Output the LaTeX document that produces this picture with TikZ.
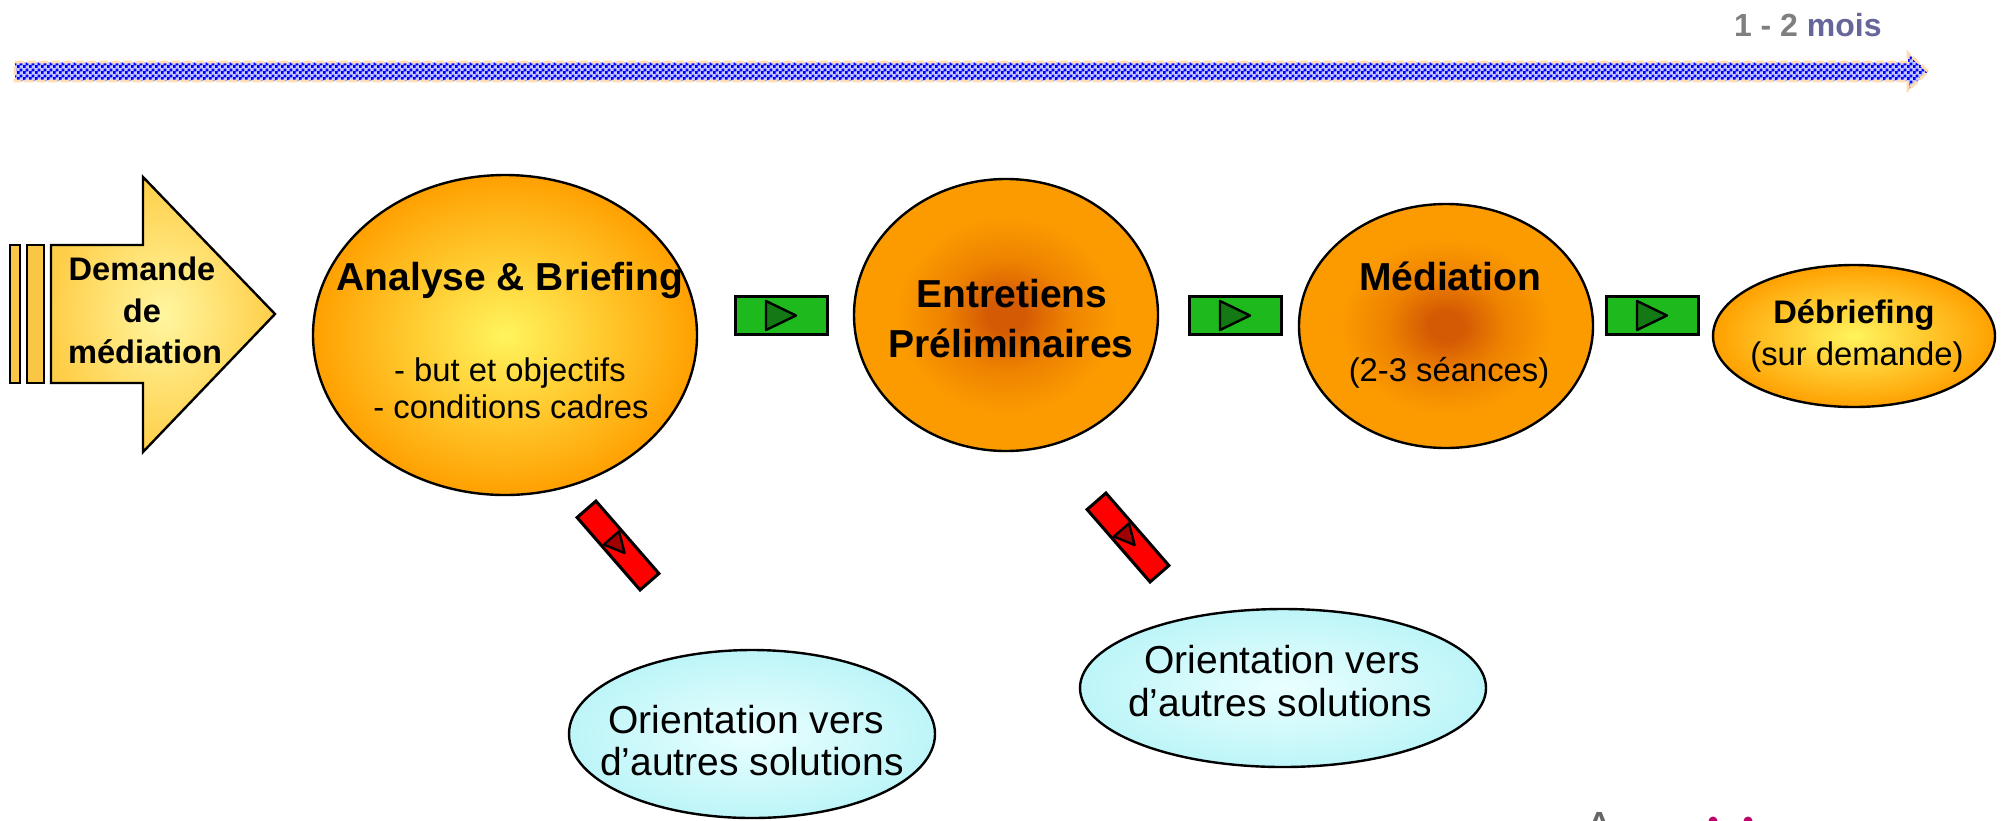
\documentclass[tikz,border=0pt]{standalone}
\usepackage{fontspec}
\setmainfont{Liberation Sans}
\usetikzlibrary{patterns,shapes.geometric}
\definecolor{ylwC}{HTML}{FFF45E}
\definecolor{orgE}{HTML}{FFA000}
\definecolor{coreC}{HTML}{D45A04}
\definecolor{coreM}{HTML}{EE8200}
\definecolor{orgF}{HTML}{FB9B00}
\definecolor{arrC}{HTML}{FFF6A0}
\definecolor{arrE}{HTML}{FFCE48}
\definecolor{barF}{HTML}{F9C745}
\definecolor{cyC}{HTML}{EAFFFF}
\definecolor{cyE}{HTML}{BDF5F8}
\definecolor{grF}{HTML}{1DB91D}
\definecolor{grT}{HTML}{147814}
\definecolor{rdF}{HTML}{FF0000}
\definecolor{rdT}{HTML}{A00000}
\definecolor{peach}{HTML}{FFDDB0}
\definecolor{graytxt}{HTML}{7F7F7F}
\definecolor{moistxt}{HTML}{66669A}
\definecolor{logogray}{HTML}{666666}
\definecolor{logomag}{HTML}{C0006A}
\pgfdeclarepatternformonly{finechecker}{\pgfqpoint{0pt}{0pt}}{\pgfqpoint{2.8pt}{2.8pt}}{\pgfqpoint{2.8pt}{2.8pt}}{%
  \pgfpathrectangle{\pgfqpoint{0pt}{0pt}}{\pgfqpoint{1.45pt}{1.45pt}}%
  \pgfpathrectangle{\pgfqpoint{1.4pt}{1.4pt}}{\pgfqpoint{1.45pt}{1.45pt}}%
  \pgfusepath{fill}}
\pgfdeclareradialshading{darkcore}{\pgfpoint{0bp}{0bp}}{color(0bp)=(coreC); color(3bp)=(coreC); color(10bp)=(coreM); color(18bp)=(orgF); color(25bp)=(orgF); color(50bp)=(orgF)}
\begin{document}
\begin{tikzpicture}[x=0.5pt,y=-0.5pt,
  outl/.style={draw=black,line width=1.2pt},
  bigell/.style={ellipse,outl,inner sep=0pt},
  yelell/.style={bigell,inner color=ylwC,outer color=orgE},
  darkell/.style={bigell,shading=darkcore},
  cyell/.style={bigell,inner color=cyC,outer color=cyE},
  ttl/.style={font=\fontsize{19.5}{23}\selectfont\bfseries,anchor=base,inner sep=0pt},
  subtxt/.style={font=\fontsize{16.4}{20}\selectfont,anchor=base,inner sep=0pt},
  dtxt/.style={font=\fontsize{16.3}{20}\selectfont\bfseries,anchor=base,inner sep=0pt},
  otxt/.style={font=\fontsize{19.5}{23}\selectfont,anchor=base,inner sep=0pt},
  greenbox/.style={fill=grF,draw=black,line width=1.5pt},
  greentri/.style={fill=grT,draw=black,line width=1.2pt,line join=round},
  redbox/.style={fill=rdF,draw=black,line width=1.5pt},
  redtri/.style={fill=rdT,draw=black,line width=1.2pt,line join=round}]
\path[use as bounding box] (0,0) rectangle (2005,820);
\clip (0,0) rectangle (2005,820);

% timeline arrow
\path[fill=blue!22]
  (15,62) -- (1908,62) -- (1908,53) -- (1928,71.5) -- (1908,90) -- (1908,81) -- (15,81) -- cycle;
\path[pattern=finechecker,pattern color=blue]
  (15,62) -- (1908,62) -- (1908,53) -- (1928,71.5) -- (1908,90) -- (1908,81) -- (15,81) -- cycle;
\draw[peach,line width=1.4pt,dash pattern=on 4.5pt off 1.5pt]
  (15,62) -- (1908,62) -- (1908,53) -- (1928,71.5) -- (1908,90) -- (1908,81) -- (15,81) -- cycle;
\node[anchor=base east,inner sep=0pt,font=\fontsize{16}{19}\selectfont\bfseries] (duree) at (1882,36)
  {\textcolor{graytxt}{1 - 2} \textcolor{moistxt}{mois}};

% Demande arrow
\draw[outl,fill=barF] (10,245) rectangle (20,383);
\draw[outl,fill=barF] (27,245) rectangle (44,383);
\path[outl,inner color=arrC,outer color=arrE]
  (51,245) -- (143,245) -- (143,177) -- (275,314) -- (143,452) -- (143,383) -- (51,383) -- cycle;
\node[dtxt] (dem1) at (142,280) {Demande};
\node[dtxt] (dem2) at (142,322) {de};
\node[dtxt] (dem3) at (145,363) {médiation};

% main ellipses
\node[yelell,minimum width=192pt,minimum height=160pt] (A) at (505,335) {};
\node[ttl] (A1) at (510,290) {Analyse \& Briefing};
\node[subtxt] (A2) at (510,381) {- but et objectifs};
\node[subtxt] (A3) at (511,418) {- conditions cadres};

\node[darkell,minimum width=152pt,minimum height=136pt] (E) at (1006,315) {};
\node[ttl] (E1) at (1012,307) {Entretiens};
\node[ttl] (E2) at (1011,357) {Préliminaires};

\node[darkell,minimum width=147pt,minimum height=122pt] (M) at (1446,326) {};
\node[ttl] (M1) at (1450,290) {Médiation};
\node[subtxt] (M2) at (1449,381) {(2-3 séances)};

\node[yelell,minimum width=141pt,minimum height=71pt] (D) at (1854,336) {};
\node[dtxt] (D1) at (1854,323) {Débriefing};
\node[subtxt] (D2) at (1857,365) {(sur demande)};

% orientation ellipses
\node[cyell,minimum width=183pt,minimum height=84pt] (O1) at (752,734) {};
\node[otxt] (O1a) at (746,733) {Orientation vers};
\node[otxt] (O1b) at (752,775) {d’autres solutions};

\node[cyell,minimum width=203pt,minimum height=79pt] (O2) at (1283,688) {};
\node[otxt] (O2a) at (1282,673) {Orientation vers};
\node[otxt] (O2b) at (1280,716) {d’autres solutions};

% green step arrows
\foreach \gx in {735,1189,1606}{
  \begin{scope}[shift={(\gx,296)}]
    \draw[greenbox] (0,0) rectangle (92,38);
    \draw[greentri] (31,5) -- (61,19.5) -- (31,34) -- cycle;
  \end{scope}
}

% red exit arrows
\foreach \rx/\ry in {618/545.5,1128/537.5}{
  \begin{scope}[shift={(\rx,\ry)},rotate=-49]
    \draw[redbox] (-48,-12.5) rectangle (48,12.5);
    \draw[redtri] (-10,-10) -- (10,0) -- (-10,10) -- cycle;
  \end{scope}
}

% cut-off logo fragment
\node[anchor=north,inner sep=0pt,text=logogray,font=\fontsize{24}{24}\selectfont] (logoA) at (1599,812) {A};
\fill[logomag] (1713,821) circle (4.5);
\fill[logomag] (1748,821) circle (4.5);
\end{tikzpicture}
\end{document}
